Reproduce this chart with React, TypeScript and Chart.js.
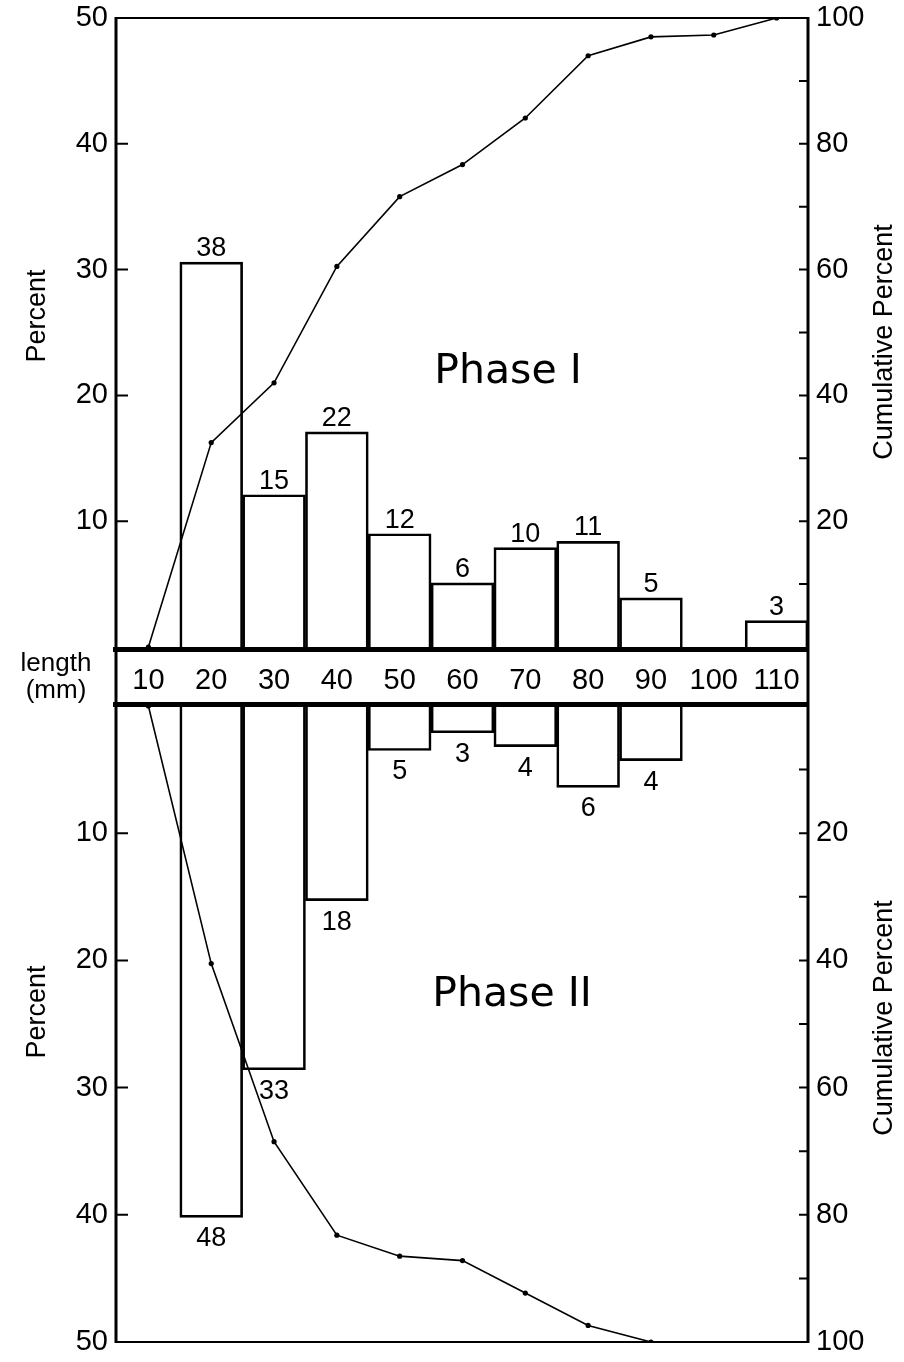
import React, { useEffect, useRef } from 'react';
import { Chart, registerables } from 'chart.js';
Chart.register(...registerables);

const W = 904;
const H = 1362;

// ---- data ----
const lengthLabels = ['10', '20', '30', '40', '50', '60', '70', '80', '90', '100', '110'];
const phase1Percent = [null, 30.6, 12.1, 17.1, 9.0, 5.1, 7.9, 8.4, 3.9, null, 2.1];
const phase1Counts = [null, 38, 15, 22, 12, 6, 10, 11, 5, null, 3];
const phase1Cumulative = [0, 32.5, 42, 60.5, 71.6, 76.7, 84.1, 94, 97, 97.3, 100];
const phase2Percent = [null, 40.2, 28.6, 15.3, 3.5, 2.1, 3.2, 6.4, 4.3, null, null];
const phase2Counts = [null, 48, 33, 18, 5, 3, 4, 6, 4, null, null];
const phase2Cumulative = [0, 40.5, 68.5, 83.2, 86.5, 87.2, 92.3, 97.4, 100, null, null];
const percentTickValues = [0, 10, 20, 30, 40, 50];
const cumulativeTickValues = [0, 10, 20, 30, 40, 50, 60, 70, 80, 90, 100];
const cumulativeLabelValues = [20, 40, 60, 80, 100];

const NUM_FONT = '"Liberation Sans", Arial, sans-serif';
const PHASE_FONT = '"DejaVu Sans", sans-serif';

function makeDeco(kind: 'top' | 'bottom', counts: (number | null)[], phase: string, bandH: number) {
  return {
    id: 'deco-' + kind,
    afterDatasetsDraw(chart: any) {
      const ctx = chart.ctx as CanvasRenderingContext2D;
      const a = chart.chartArea;
      ctx.save();
      ctx.fillStyle = '#000';
      ctx.strokeStyle = '#000';
      // frame
      if (kind === 'top') {
        ctx.lineWidth = 2;
        ctx.beginPath();
        ctx.moveTo(a.left, a.top);
        ctx.lineTo(a.right, a.top);
        ctx.stroke();
        ctx.lineWidth = 3;
        ctx.beginPath();
        ctx.moveTo(a.left - 1, a.top - 1);
        ctx.lineTo(a.left - 1, a.bottom + bandH);
        ctx.moveTo(a.right, a.top - 1);
        ctx.lineTo(a.right, a.bottom + bandH);
        ctx.stroke();
        ctx.fillRect(a.left - 4, a.bottom, a.right - a.left + 5, 5);
      } else {
        ctx.lineWidth = 2;
        ctx.beginPath();
        ctx.moveTo(a.left, a.bottom);
        ctx.lineTo(a.right, a.bottom);
        ctx.stroke();
        ctx.lineWidth = 3;
        ctx.beginPath();
        ctx.moveTo(a.left - 1, a.top);
        ctx.lineTo(a.left - 1, a.bottom + 1);
        ctx.moveTo(a.right, a.top);
        ctx.lineTo(a.right, a.bottom + 1);
        ctx.stroke();
        ctx.fillRect(a.left - 4, a.top - 4, a.right - a.left + 5, 5);
      }
      // inward ticks
      ctx.lineWidth = 2;
      const yL = chart.scales.y;
      const yR = chart.scales.yR;
      ctx.beginPath();
      for (const t of yL.ticks) {
        if (t.value === 0 || t.value === 50) continue;
        const p = yL.getPixelForValue(t.value);
        ctx.moveTo(a.left, p);
        ctx.lineTo(a.left + 11, p);
      }
      for (const t of yR.ticks) {
        if (t.value === 0 || t.value === 100) continue;
        const p = yR.getPixelForValue(t.value);
        ctx.moveTo(a.right, p);
        ctx.lineTo(a.right - 9, p);
      }
      ctx.stroke();
      // count labels
      const meta = chart.getDatasetMeta(0);
      ctx.font = '27px ' + NUM_FONT;
      ctx.textAlign = 'center';
      meta.data.forEach((el: any, i: number) => {
        const c = counts[i];
        if (c == null) return;
        if (kind === 'top') {
          ctx.textBaseline = 'alphabetic';
          ctx.fillText(String(c), el.x, el.y - 6);
        } else {
          ctx.textBaseline = 'top';
          ctx.fillText(String(c), el.x, el.y + 8);
        }
      });
      // phase text
      ctx.font = '41px ' + PHASE_FONT;
      ctx.textBaseline = 'middle';
      ctx.fillText(phase, kind === 'top' ? 508 : 512, kind === 'top' ? 372 : 995);
      // axis titles (both read bottom-to-top)
      ctx.font = '27px ' + NUM_FONT;
      const rot = (txt: string, x: number, y: number) => {
        ctx.save();
        ctx.translate(x, y);
        ctx.rotate(-Math.PI / 2);
        ctx.textAlign = 'center';
        ctx.textBaseline = 'middle';
        ctx.fillText(txt, 0, 0);
        ctx.restore();
      };
      if (kind === 'top') {
        rot('Percent', 38, 316);
        rot('Cumulative Percent', 885, 342);
        ctx.font = '26px ' + NUM_FONT;
        ctx.textAlign = 'center';
        ctx.textBaseline = 'middle';
        ctx.fillText('length', 56, 664);
        ctx.fillText('(mm)', 56, 691);
      } else {
        rot('Percent', 38, 1012);
        rot('Cumulative Percent', 885, 1018);
      }
      ctx.restore();
    },
  };
}

function buildConfig(kind: 'top' | 'bottom'): any {
  const isTop = kind === 'top';
  const percent = isTop ? phase1Percent : phase2Percent;
  const cumulative = isTop ? phase1Cumulative : phase2Cumulative;
  const counts = isTop ? phase1Counts : phase2Counts;
  const tickFont = { family: NUM_FONT, size: 29 };
  const yTickFont = { family: NUM_FONT, size: 29, lineHeight: 0.5 };
  return {
    type: 'bar',
    data: {
      labels: lengthLabels,
      datasets: [
        {
          type: 'bar',
          data: percent,
          yAxisID: 'y',
          backgroundColor: 'rgba(255,255,255,0)',
          borderColor: '#000',
          borderWidth: 2,
          borderSkipped: 'start',
          barPercentage: 1,
          categoryPercentage: 1,
          order: 2,
        },
        {
          type: 'line',
          data: cumulative,
          yAxisID: 'yR',
          borderColor: '#000',
          borderWidth: 1.6,
          pointRadius: 2.6,
          pointBackgroundColor: '#000',
          pointBorderWidth: 0,
          tension: 0,
          fill: false,
          spanGaps: false,
          order: 1,
        },
      ],
    },
    options: {
      responsive: false,
      animation: false,
      devicePixelRatio: 1,
      layout: { padding: isTop ? { top: 18, left: 0, right: 0, bottom: 0 } : { top: 706, left: 0, right: 0, bottom: 20 } },
      plugins: { legend: { display: false }, tooltip: { enabled: false } },
      scales: {
        x: {
          type: 'category',
          display: isTop,
          offset: true,
          grid: { display: false, drawTicks: false },
          border: { display: false },
          ticks: { color: '#000', font: tickFont, padding: 17, maxRotation: 0, autoSkip: false },
          afterFit: (s: any) => {
            s.height = isTop ? H - 647 : 0;
          },
        },
        y: {
          position: 'left',
          min: 0,
          max: 50,
          reverse: !isTop,
          grid: { display: false, drawTicks: false },
          border: { display: false },
          afterBuildTicks: (s: any) => {
            s.ticks = percentTickValues.map((v) => ({ value: v }));
          },
          ticks: {
            color: '#000',
            font: yTickFont,
            padding: 9,
            callback: (v: any) => (v === 0 ? '' : String(v)),
          },
          afterFit: (s: any) => {
            s.width = 117;
          },
        },
        yR: {
          position: 'right',
          min: 0,
          max: 100,
          reverse: !isTop,
          grid: { display: false, drawTicks: false },
          border: { display: false },
          afterBuildTicks: (s: any) => {
            s.ticks = cumulativeTickValues.map((v) => ({ value: v }));
          },
          ticks: {
            color: '#000',
            font: yTickFont,
            padding: 8,
            autoSkip: false,
            callback: (v: any) => (cumulativeLabelValues.includes(v) ? String(v) : ''),
          },
          afterFit: (s: any) => {
            s.width = W - 808;
          },
        },
      },
    },
    plugins: [makeDeco(kind, counts, isTop ? 'Phase I' : 'Phase II', 59)],
  };
}

export default function App() {
  const topRef = useRef<HTMLCanvasElement>(null);
  const botRef = useRef<HTMLCanvasElement>(null);
  useEffect(() => {
    const c1 = new Chart(topRef.current as HTMLCanvasElement, buildConfig('top'));
    const c2 = new Chart(botRef.current as HTMLCanvasElement, buildConfig('bottom'));
    return () => {
      c1.destroy();
      c2.destroy();
    };
  }, []);
  return (
    <div style={{ position: 'absolute', left: 0, top: 0, width: W, height: H, background: '#fff' }}>
      <canvas ref={topRef} width={W} height={H} style={{ position: 'absolute', left: 0, top: 0, width: W, height: H }} />
      <canvas ref={botRef} width={W} height={H} style={{ position: 'absolute', left: 0, top: 0, width: W, height: H }} />
    </div>
  );
}
